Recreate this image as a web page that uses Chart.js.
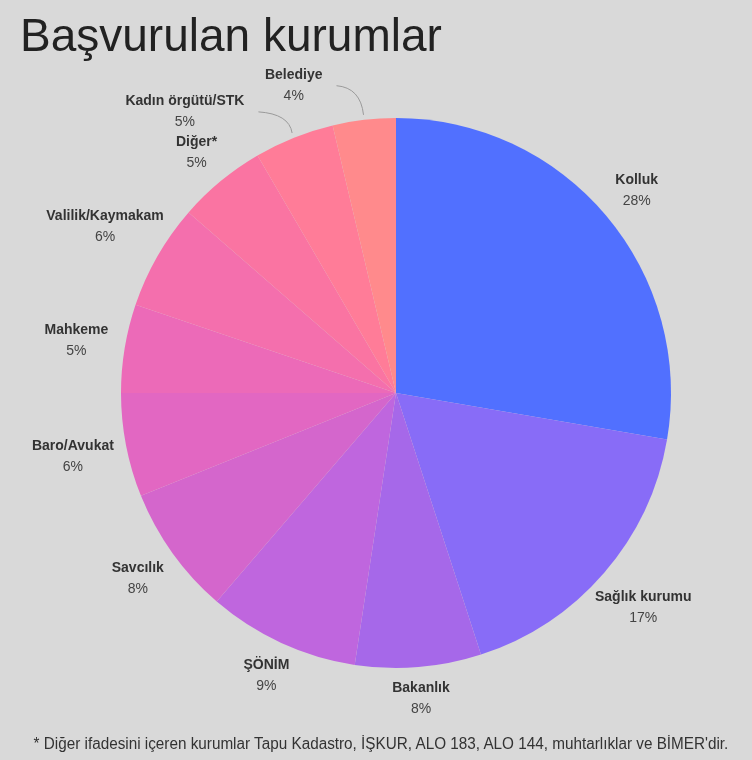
<!DOCTYPE html>
<html>
<head>
<meta charset="utf-8">
<script src="https://cdn.jsdelivr.net/npm/chart.js@4"></script>
<style>
    html, body { margin: 0; padding: 0; background: #d9d9d9; }
    #wrap { position: relative; width: 752px; height: 760px; overflow: hidden; }
    #title {
        position: absolute; left: 20px; top: 8px; margin: 0;
        font: 400 46px "Liberation Sans", Arial, sans-serif; color: #222;
    }
    #note {
        position: absolute; left: 0; width: 762px; top: 735px; text-align: center;
        font: 400 16px "Liberation Sans Narrow", "Liberation Sans", sans-serif; color: #333;
        transform: scaleX(0.955); transform-origin: 380px 0;
    }
</style>
</head>
<body>
<div id="wrap">
    <canvas id="pieChart" width="752" height="760"></canvas>
    <h1 id="title">Başvurulan kurumlar</h1>
    <div id="note">* Diğer ifadesini içeren kurumlar Tapu Kadastro, İŞKUR, ALO 183, ALO 144, muhtarlıklar ve BİMER'dir.</div>
</div>
<script>
const categories = ['Kolluk', 'Sağlık kurumu', 'Bakanlık', 'ŞÖNİM', 'Savcılık', 'Baro/Avukat',
    'Mahkeme', 'Valilik/Kaymakam', 'Diğer*', 'Kadın örgütü/STK', 'Belediye'];
const shares = [27.7, 17.3, 7.4, 8.9, 7.6, 6.1, 5.2, 6.2, 5.2, 4.7, 3.7];
const percentLabels = ['28%', '17%', '8%', '9%', '8%', '6%', '5%', '6%', '5%', '5%', '4%'];
const colors = ['#5170ff', '#886cf7', '#a668e9', '#bf66de', '#d466cc', '#e267c2',
    '#ec6ab8', '#f46fad', '#fa74a2', '#ff7c98', '#ff8a8c'];

// labels outside the pie, small slices get a curved leader line
const outsideLabels = {
    id: 'outsideLabels',
    afterDraw(chart) {
        const ctx = chart.ctx;
        const arcs = chart.getDatasetMeta(0).data;
        ctx.save();
        ctx.textAlign = 'center';
        ctx.textBaseline = 'middle';
        arcs.forEach((arc, i) => {
            const { x, y, outerRadius, startAngle, endAngle } = arc.getProps(
                ['x', 'y', 'outerRadius', 'startAngle', 'endAngle'], true);
            const mid = (startAngle + endAngle) / 2;
            ctx.font = 'bold 14px "Liberation Sans", Arial, sans-serif';
            const halfW = ctx.measureText(categories[i]).width / 2;
            let lx, ly;
            if (shares[i] < 5) {
                const sx = x + Math.cos(mid) * (outerRadius + 5);
                const sy = y + Math.sin(mid) * (outerRadius + 5);
                const ex = x + Math.cos(mid - 0.075) * (outerRadius + 38);
                const ey = y + Math.sin(mid - 0.075) * (outerRadius + 38);
                ctx.strokeStyle = '#9a9a9a';
                ctx.lineWidth = 1;
                ctx.beginPath();
                ctx.moveTo(sx, sy);
                ctx.quadraticCurveTo(sx - 3, ey + 2, ex, ey);
                ctx.stroke();
                lx = ex - 14 - halfW;
                ly = ey - 1;
            } else {
                const off = 30 + 0.6 * halfW * Math.abs(Math.cos(mid));
                lx = x + Math.cos(mid) * (outerRadius + off);
                ly = y + Math.sin(mid) * (outerRadius + off);
            }
            ctx.fillStyle = '#333';
            ctx.fillText(categories[i], lx, ly - 10);
            ctx.font = '14px "Liberation Sans", Arial, sans-serif';
            ctx.fillStyle = '#444';
            ctx.fillText(percentLabels[i], lx, ly + 11);
        });
        ctx.restore();
    }
};

const ctx = document.getElementById('pieChart').getContext('2d');
new Chart(ctx, {
    type: 'pie',
    data: {
        labels: categories,
        datasets: [{
            data: shares,
            backgroundColor: colors,
            borderWidth: 0
        }]
    },
    options: {
        responsive: false,
        animation: false,
        layout: { padding: { left: 121, right: 81, top: 118, bottom: 92 } },
        plugins: {
            legend: { display: false },
            tooltip: { enabled: false }
        }
    },
    plugins: [outsideLabels]
});
</script>
</body>
</html>
